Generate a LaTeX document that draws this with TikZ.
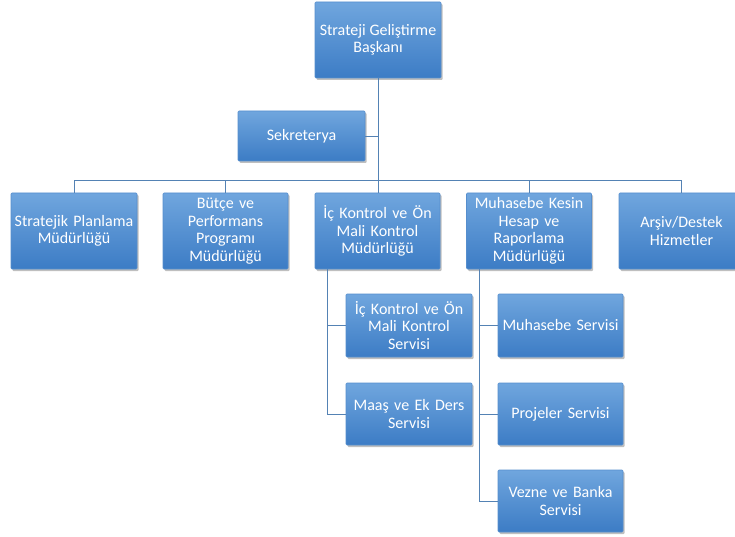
\documentclass[tikz,border=0pt]{standalone}
\usepackage{fontspec}
\setmainfont{Carlito}
\usetikzlibrary{shadows}
\definecolor{boxtop}{RGB}{112,166,222}
\definecolor{boxbot}{RGB}{60,124,197}
\definecolor{boxline}{RGB}{86,142,205}
\definecolor{conn}{RGB}{84,130,180}
\tikzset{
  orgbox/.style={rectangle, rounded corners=1pt, draw=boxline, line width=0.6pt,
    top color=boxtop, bottom color=boxbot, text=white, align=center,
    font=\fontsize{16}{17.5}\selectfont, inner sep=1pt,
    drop shadow={shadow xshift=1.5pt, shadow yshift=-2pt, fill=black, opacity=0.25}},
  conline/.style={draw=conn, line width=0.8pt}
}
\begin{document}
\begin{tikzpicture}[x=1pt,y=-1pt]
\useasboundingbox (0,0) rectangle (735,537);
\clip (0,0) rectangle (735,537);
% top
\node[orgbox, minimum width=126pt, minimum height=76pt] (top) at (378,40) {Strateji Geliştirme\\Başkanı};
\node[orgbox, minimum width=127pt, minimum height=50pt] (sek) at (301.5,136) {Sekreterya};
% level 2
\node[orgbox, minimum width=126pt, minimum height=76pt, text width=123pt] (l1) at (74,231) {Stratejik Planlama\\Müdürlüğü};
\node[orgbox, minimum width=125pt, minimum height=76pt, text width=123pt] (l2) at (225.5,231) {Bütçe ve\\Performans\\Programı\\Müdürlüğü};
\node[orgbox, minimum width=125pt, minimum height=76pt, text width=123pt] (l3) at (377.5,231) {İç Kontrol ve Ön\\Mali Kontrol\\Müdürlüğü};
\node[orgbox, minimum width=125pt, minimum height=76pt, text width=123pt] (l4) at (529,231) {Muhasebe Kesin\\Hesap ve\\Raporlama\\Müdürlüğü};
\node[orgbox, minimum width=125pt, minimum height=76pt, text width=123pt] (l5) at (681.5,231) {Arşiv/Destek\\Hizmetler};
% sub boxes
\node[orgbox, minimum width=126pt, minimum height=63pt, text width=123pt] (s1) at (409,325.5) {İç Kontrol ve Ön\\Mali Kontrol\\Servisi};
\node[orgbox, minimum width=126pt, minimum height=62pt, text width=123pt] (s2) at (409,414) {Maaş ve Ek Ders\\Servisi};
\node[orgbox, minimum width=125pt, minimum height=63pt, text width=123pt] (m1) at (560.5,325.5) {Muhasebe Servisi};
\node[orgbox, minimum width=125pt, minimum height=62pt, text width=123pt] (m2) at (560.5,414) {Projeler Servisi};
\node[orgbox, minimum width=125pt, minimum height=62pt, text width=123pt] (m3) at (560.5,501) {Vezne ve Banka\\Servisi};
% connectors
\coordinate (bus) at (0,180);
\coordinate (ia) at (327,269);
\coordinate (ma) at (479,269);
\draw[conline] (top.south) -- (top.south |- l3.north);
\draw[conline] (sek.east) -- (sek.east -| top.south);
\draw[conline] (l1.north) -- (l1.north |- bus) -- (l5.north |- bus) -- (l5.north);
\draw[conline] (l2.north) -- (l2.north |- bus);
\draw[conline] (l4.north) -- (l4.north |- bus);
\draw[conline] (ia) |- (s1.west);
\draw[conline] (ia) |- (s2.west);
\draw[conline] (ma) |- (m1.west);
\draw[conline] (ma) |- (m2.west);
\draw[conline] (ma) |- (m3.west);
\end{tikzpicture}
\end{document}
